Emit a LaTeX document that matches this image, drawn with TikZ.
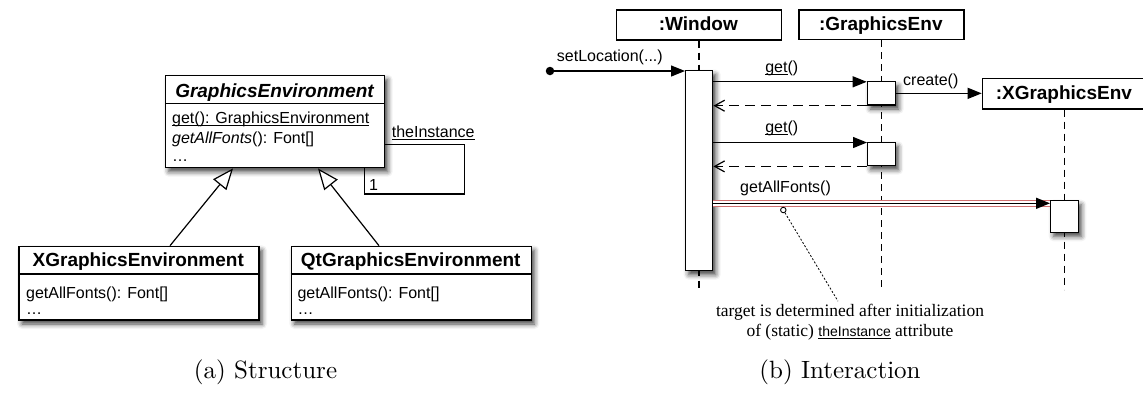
\documentclass[tikz,border=0pt]{standalone}
\usepackage{fontspec}
\newfontfamily\umlfont{Liberation Sans}
\newfontfamily\notefont{Liberation Serif}
\usetikzlibrary{arrows.meta,calc,shadows.blur}
\definecolor{hilite}{RGB}{208,112,112}
% underline drawn just below the baseline, crossing descenders
\newcommand\undl[1]{\begingroup\setbox0=\hbox{#1}\rlap{\rule[-2.4pt]{\wd0}{0.9pt}}\box0\endgroup}
\tikzset{
  umlbox/.style={draw, line width=1.4pt, fill=white, inner sep=0pt, anchor=north west},
  shade box/.style={blur shadow={shadow xshift=3pt, shadow yshift=-4pt, shadow blur radius=5pt, shadow opacity=75}},
  label/.style={font=\umlfont\fontsize{16}{19}\selectfont, inner sep=0pt, anchor=base west},
  boxtitle/.style={font=\umlfont\bfseries\fontsize{19}{22}\selectfont, inner sep=0pt, anchor=base},
  sep/.style={line width=1.2pt},
  lifeline/.style={line width=1.3pt, dash pattern=on 7pt off 5pt},
  msg/.style={line width=1.2pt, -{Triangle[length=14pt,width=11pt]}},
  reply/.style={line width=1.2pt, dash pattern=on 10pt off 6pt, -{Straight Barb[length=10pt,width=11pt,line width=1.2pt]}},
  generalize/.style={line width=1.2pt, -{Triangle[open,length=21pt,width=17pt,fill=white,line width=1.2pt]}},
  notetext/.style={font=\notefont\fontsize{17.5}{20}\selectfont, inner sep=0pt, anchor=base},
}
\begin{document}
\begin{tikzpicture}[x=1pt,y=-1pt]
\useasboundingbox (0,0) rectangle (1143,392);

% ---------------- class structure ----------------
\node[umlbox, shade box, minimum width=219pt, minimum height=92pt] (ge) at (165,75) {};
\draw[sep] ($(ge.north west)+(0,28.3)$) -- ($(ge.north east)+(0,28.3)$);
\node[boxtitle] (geT) at (274.5,97) {\itshape GraphicsEnvironment};
\node[label] (geOp1) at (172,123) {\undl{get(): GraphicsEnvironment}};
\node[label] (geOp2) at (172,143.5) {\textit{getAllFonts}(): Font[]};
\node[label] (geMore) at (172,161) {…};

\node[umlbox, shade box, minimum width=240pt, minimum height=73.6pt] (xge) at (18.3,245.7) {};
\draw[sep] ($(xge.north west)+(0,28.3)$) -- ($(xge.north east)+(0,28.3)$);
\node[boxtitle] (xgeT) at (138.3,266) {XGraphicsEnvironment};
\node[label] (xgeOp) at (26,298.5) {getAllFonts(): Font[]};
\node[label] (xgeMore) at (26,314) {…};

\node[umlbox, shade box, minimum width=240pt, minimum height=73.6pt] (qge) at (290.7,245.7) {};
\draw[sep] ($(qge.north west)+(0,28.3)$) -- ($(qge.north east)+(0,28.3)$);
\node[boxtitle] (qgeT) at (410.7,266) {QtGraphicsEnvironment};
\node[label] (qgeOp) at (297.3,298.5) {getAllFonts(): Font[]};
\node[label] (qgeMore) at (297.3,314) {…};

\draw[generalize] ($(xge.north west)+(151.7,0)$) -- ($(ge.south west)+(68,0)$);
\draw[generalize] ($(qge.north west)+(88.3,0)$) -- ($(ge.south west)+(153,0)$);

% static self association
\draw[line width=1.2pt] ($(ge.north east)+(0,69.3)$) -| ($(ge.north east)+(79,119)$) -| ($(ge.south east)+(-21.3,0)$);
\node[label] (role) at (391.7,137) {\undl{theInstance}};
\node[label] (mult) at (369,190) {1};

% ---------------- interaction ----------------
\node[umlbox, minimum width=164.7pt, minimum height=30pt] (win) at (616,9.3) {};
\node[boxtitle] (winT) at (698.3,30) {:Window};
\node[umlbox, minimum width=165pt, minimum height=29.5pt] (genv) at (798.3,9.3) {};
\node[boxtitle] (genvT) at (880.8,30) {:GraphicsEnv};
\node[umlbox, minimum width=164.3pt, minimum height=30.6pt] (xgenv) at (981.7,77.7) {};
\node[boxtitle] (xgenvT) at (1063.85,99) {:XGraphicsEnv};

\draw[lifeline] (win.south) -- ++(0,249);
\draw[lifeline] (genv.south) -- ++(0,249.2);
\draw[lifeline] (xgenv.south) -- ++(0,180);

\node[umlbox, shade box, minimum width=27pt, minimum height=200pt] (winact) at (685,70) {};
\node[umlbox, shade box, minimum width=28.3pt, minimum height=23.3pt] (act1) at (866.7,81) {};
\node[umlbox, shade box, minimum width=27.5pt, minimum height=23.3pt] (act2) at (867,141.7) {};
\node[umlbox, shade box, minimum width=27.7pt, minimum height=31.7pt] (act3) at (1050,200) {};

% found message
\node[circle, fill, inner sep=0pt, minimum size=8.5pt] (init) at (550,71) {};
\draw[msg] (init.center) -- (init.center -| winact.west);
\node[label] (setLoc) at (556.7,61) {setLocation(...)};

% first get()
\draw[msg] ($(winact.east |- act1.north)+(0,0.8)$) -- ($(act1.north west)+(0,0.8)$);
\node[label, anchor=base] (get1) at (781.7,72) {\undl{get}()};
\draw[reply] (act1.south west) -- (act1.south west -| winact.east);

% create()
\draw[msg] (act1.east) -- (act1.east -| xgenv.west);
\node[label] (create) at (903,85) {create()};

% second get()
\draw[msg] ($(winact.east |- act2.north)+(0,0.8)$) -- ($(act2.north west)+(0,0.8)$);
\node[label, anchor=base] (get2) at (781.7,132) {\undl{get}()};
\draw[reply] (act2.south west) -- (act2.south west -| winact.east);

% highlighted getAllFonts()
\coordinate (gafEnd) at ($(act3.north west)+(0,3.3)$);
\draw[hilite, line width=6.5pt] (gafEnd -| winact.east) -- (gafEnd);
\draw[white, line width=4.4pt] (gafEnd -| winact.east) -- (gafEnd);
\draw[msg, line width=1.6pt] (gafEnd -| winact.east) -- (gafEnd);
\node[label] (gaf) at (740,192) {getAllFonts()};

% note
\node[notetext] (note1) at (850,316.7) {target is determined after initialization};
\node[notetext] (note2) at (850,336.7) {of (static) {\umlfont\fontsize{14}{16}\selectfont\undl{theInstance}} attribute};
\node[circle, draw, line width=0.9pt, fill=white, inner sep=0pt, minimum size=5.5pt] (pin) at (783.3,210) {};
\draw[line width=0.8pt, dash pattern=on 2pt off 1.8pt] (pin) -- ([xshift=-12pt,yshift=3pt]note1.north);

% captions
\node[anchor=base, inner sep=0pt] (capA) at (265.5,378) {\scalebox{2.5}{(a) Structure}};
\node[anchor=base, inner sep=0pt] (capB) at (840,378) {\scalebox{2.5}{(b) Interaction}};
\end{tikzpicture}
\end{document}
